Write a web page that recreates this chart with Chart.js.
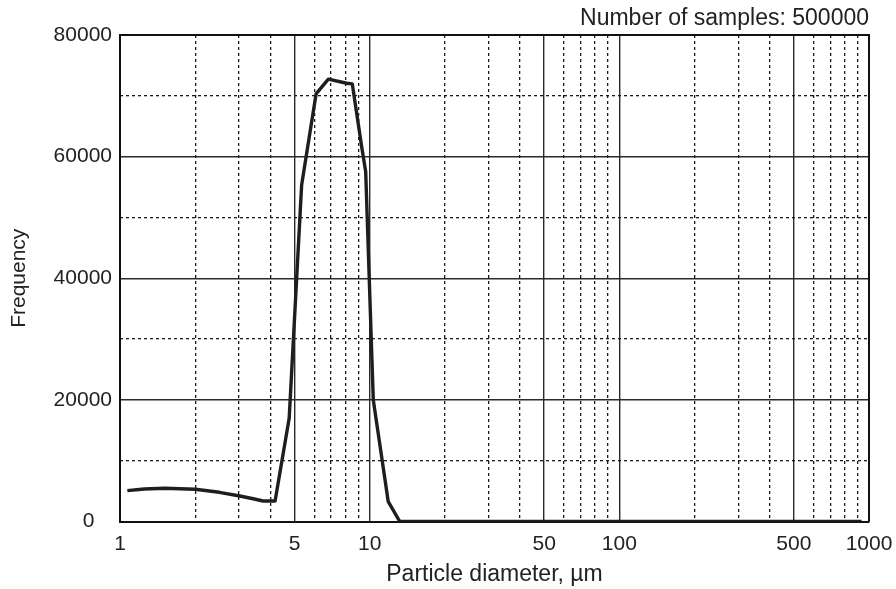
<!DOCTYPE html>
<html>
<head>
<meta charset="utf-8">
<script src="https://cdn.jsdelivr.net/npm/chart.js@4/dist/chart.umd.min.js"></script>
<style>
  html, body { margin: 0; padding: 0; background: #fff; }
  #wrap { width: 896px; height: 589px; }
</style>
</head>
<body>
<div id="wrap"><canvas id="c" width="896" height="589"></canvas></div>
<script>
// Particle size distribution (diameter in µm, frequency counts)
const diameters   = [1.07, 1.25, 1.51, 2.0, 2.5, 3.02, 3.45, 3.74, 4.18, 4.76, 5.34, 6.1, 6.83, 8.09, 8.52, 9.29, 9.64, 10.34, 11.87, 13.2, 20, 50, 100, 200, 500, 934];
const frequencies = [5070, 5350, 5460, 5300, 4800, 4190, 3700, 3370, 3370, 16970, 55350, 70310, 72730, 72070, 71960, 61640, 57530, 19980, 3260, 0, 0, 0, 0, 0, 0, 0];

// Axis ticks
const xMajorTicks = [1, 5, 10, 50, 100, 500, 1000];
const xMinorTicks = [2, 3, 4, 6, 7, 8, 9, 20, 30, 40, 60, 70, 80, 90, 200, 300, 400, 600, 700, 800, 900];
const yMajorTicks = [0, 20000, 40000, 60000, 80000];
const yMinorTicks = [10000, 30000, 50000, 70000];

const sampleCount = 500000;

const FONT = "'Liberation Sans', Arial, sans-serif";
const TEXT = '#222';

const points = diameters.map((d, i) => ({ x: d, y: frequencies[i] }));

function fixedTicks(list) {
  return (scale) => { scale.ticks = list.map(v => ({ value: v })); };
}

new Chart(document.getElementById('c'), {
  type: 'line',
  data: {
    datasets: [{
      data: points,
      borderColor: '#1e1e1e',
      borderWidth: 3.4,
      pointRadius: 0,
      tension: 0,
      borderJoinStyle: 'round',
      xAxisID: 'x',
      yAxisID: 'y'
    }]
  },
  options: {
    responsive: false,
    animation: false,
    devicePixelRatio: 1,
    layout: { padding: { left: 0, right: 27, top: 0, bottom: 0 } },
    plugins: {
      legend: { display: false },
      tooltip: { enabled: false },
      title: {
        display: true,
        text: 'Number of samples: ' + sampleCount,
        align: 'end',
        color: TEXT,
        font: { family: FONT, size: 23, weight: 'normal' },
        padding: { top: 5, bottom: 2.4 }
      }
    },
    scales: {
      x: {
        type: 'logarithmic',
        position: 'bottom',
        min: 1,
        max: 1000,
        afterBuildTicks: fixedTicks(xMajorTicks),
        afterFit: (s) => { s.height = 67.5; s.paddingRight = 0; s.paddingLeft = 0; },
        grid: { color: '#2a2a2a', lineWidth: 1.4, drawTicks: false },
        border: { display: true, color: '#111', width: 2 },
        ticks: {
          autoSkip: false,
          maxRotation: 0,
          padding: 10,
          color: TEXT,
          font: { family: FONT, size: 21 },
          callback: (v) => String(v)
        },
        title: {
          display: true,
          text: 'Particle diameter, µm',
          color: TEXT,
          font: { family: FONT, size: 23 },
          padding: { top: 1, bottom: 1 }
        }
      },
      xMinor: {
        type: 'logarithmic',
        position: 'bottom',
        min: 1,
        max: 1000,
        afterBuildTicks: fixedTicks(xMinorTicks),
        afterFit: (s) => { s.height = 0; s.paddingRight = 0; s.paddingLeft = 0; },
        grid: { color: '#1a1a1a', lineWidth: 1.3, drawTicks: false },
        border: { display: false, dash: [3, 3] },
        ticks: { display: false }
      },
      y: {
        type: 'linear',
        position: 'left',
        min: 0,
        max: 80000,
        afterBuildTicks: fixedTicks(yMajorTicks),
        afterFit: (s) => { s.width = 120; },
        grid: { color: '#2a2a2a', lineWidth: 1.4, drawTicks: false },
        border: { display: true, color: '#111', width: 2 },
        ticks: {
          padding: 8,
          color: TEXT,
          font: { family: FONT, size: 21 },
          callback: (v) => (v === 0 ? '0   ' : String(v))
        },
        title: {
          display: true,
          text: 'Frequency',
          color: TEXT,
          font: { family: FONT, size: 21 },
          padding: { top: 7, bottom: 7 }
        }
      },
      yMinor: {
        type: 'linear',
        position: 'left',
        min: 0,
        max: 80000,
        afterBuildTicks: fixedTicks(yMinorTicks),
        afterFit: (s) => { s.width = 0; },
        grid: { color: '#1a1a1a', lineWidth: 1.3, drawTicks: false },
        border: { display: false, dash: [3, 3] },
        ticks: { display: false }
      }
    }
  },
  plugins: [{
    // closes the plot frame on the top and right sides
    id: 'frame',
    afterDraw(chart) {
      const a = chart.chartArea, ctx = chart.ctx;
      ctx.save();
      ctx.strokeStyle = '#111';
      ctx.lineWidth = 2;
      ctx.beginPath();
      ctx.moveTo(a.left, a.top);
      ctx.lineTo(a.right, a.top);
      ctx.lineTo(a.right, a.bottom);
      ctx.stroke();
      ctx.restore();
    }
  }]
});
</script>
</body>
</html>
